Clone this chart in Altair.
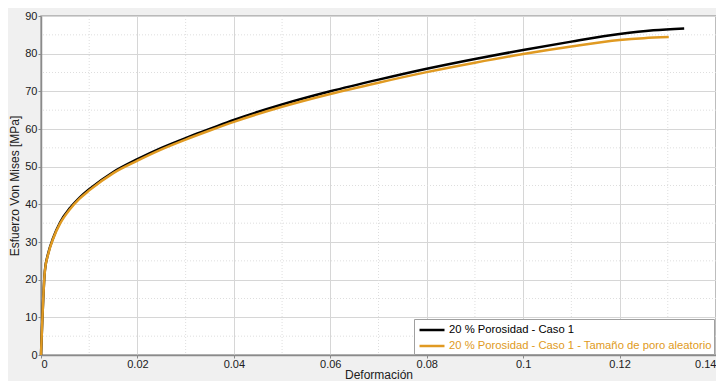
import altair as alt
import pandas as pd

# --- data ---
name_a = "20 % Porosidad - Caso 1"
name_b = "20 % Porosidad - Caso 1 - Tamaño de poro aleatorio"

strain_a = [0, 0.0008, 0.0015, 0.0025, 0.004, 0.006, 0.008, 0.01, 0.015, 0.02, 0.025, 0.03,
            0.035, 0.04, 0.05, 0.06, 0.07, 0.08, 0.09, 0.1, 0.11, 0.12, 0.127, 0.1334]
stress_a = [0, 22.3, 27.0, 31.0, 35.3, 39.0, 41.8, 44.0, 48.6, 52.0, 55.0, 57.6,
            60.0, 62.4, 66.5, 70.0, 73.1, 76.0, 78.6, 81.0, 83.2, 85.2, 86.2, 86.7]

strain_b = [0, 0.0008, 0.0015, 0.0025, 0.004, 0.006, 0.008, 0.01, 0.015, 0.02, 0.025, 0.03,
            0.035, 0.04, 0.05, 0.06, 0.07, 0.08, 0.09, 0.1, 0.11, 0.12, 0.125, 0.1302]
stress_b = [0, 22.3, 26.8, 30.8, 35.0, 38.7, 41.5, 43.7, 48.3, 51.6, 54.6, 57.2,
            59.6, 61.9, 65.9, 69.3, 72.3, 75.1, 77.6, 79.9, 81.9, 83.6, 84.1, 84.4]

minor_x = [0.01, 0.03, 0.05, 0.07, 0.09, 0.11, 0.13]
minor_y = [5, 15, 25, 35, 45, 55, 65, 75, 85]

color_a = "#000000"
color_b = "#E09A22"

df = pd.concat([
    pd.DataFrame({"strain": strain_a, "stress": stress_a, "serie": name_a}),
    pd.DataFrame({"strain": strain_b, "stress": stress_b, "serie": name_b}),
], ignore_index=True)

xscale = alt.Scale(domain=[0, 0.14], nice=False, zero=True)
yscale = alt.Scale(domain=[0, 90], nice=False, zero=True)

x_axis = alt.Axis(title="Deformación", values=[0, 0.02, 0.04, 0.06, 0.08, 0.1, 0.12, 0.14],
                  format="~g", grid=True)
y_axis = alt.Axis(title="Esfuerzo Von Mises [MPa]", values=[0, 10, 20, 30, 40, 50, 60, 70, 80, 90],
                  grid=True)

minor_v = alt.Chart(pd.DataFrame({"strain": minor_x})).mark_rule(
    color="#dedede", strokeWidth=1, strokeDash=[1, 2]
).encode(x=alt.X("strain:Q", scale=xscale, axis=x_axis))

minor_h = alt.Chart(pd.DataFrame({"stress": minor_y})).mark_rule(
    color="#dedede", strokeWidth=1, strokeDash=[1, 2]
).encode(y=alt.Y("stress:Q", scale=yscale, axis=y_axis))

lines = alt.Chart(df).mark_line(strokeWidth=2.5, interpolate="monotone").encode(
    x=alt.X("strain:Q", scale=xscale, axis=x_axis),
    y=alt.Y("stress:Q", scale=yscale, axis=y_axis),
    color=alt.Color(
        "serie:N",
        scale=alt.Scale(domain=[name_a, name_b], range=[color_a, color_b]),
        legend=alt.Legend(
            title=None,
            orient="none",
            legendX=373,
            legendY=303,
            symbolType="M-0.73,0H2.6",
            symbolSize=225,
            symbolStrokeWidth=2.5,
            labelFont="Liberation Sans",
            labelFontSize=11.25,
            labelLimit=0,
            labelColor={"expr": f"datum.label == '{name_a}' ? '{color_a}' : '{color_b}'"},
            fillColor="white",
            strokeColor="#a0a0a0",
            padding=2,
            rowPadding=1,
            labelOffset=15,
        ),
    ),
)

chart = alt.layer(minor_v, minor_h, lines).properties(
    width=675,
    height=339,
    background="#f0f0f0",
    padding={"left": 33, "top": 8, "right": 0, "bottom": 26},
    autosize=alt.AutoSizeParams(type="none"),
).configure_view(
    fill="white", stroke="#a8a8a8", strokeWidth=1.5
).configure_axis(
    labelFont="Liberation Sans",
    labelFontSize=11,
    labelColor="#202020",
    titleFont="Liberation Sans",
    titleFontSize=12,
    titleFontWeight="normal",
    titleColor="#202020",
    domainColor="#8a8a8a",
    domainWidth=1.5,
    tickColor="#8a8a8a",
    tickSize=3,
    labelPadding=0,
    titlePadding=0,
    gridColor="#d6d6d6",
    gridWidth=1,
).configure_axisY(titlePadding=3, labelPadding=1)

chart.save("out.html", embed_options={"renderer": "svg", "actions": False})
